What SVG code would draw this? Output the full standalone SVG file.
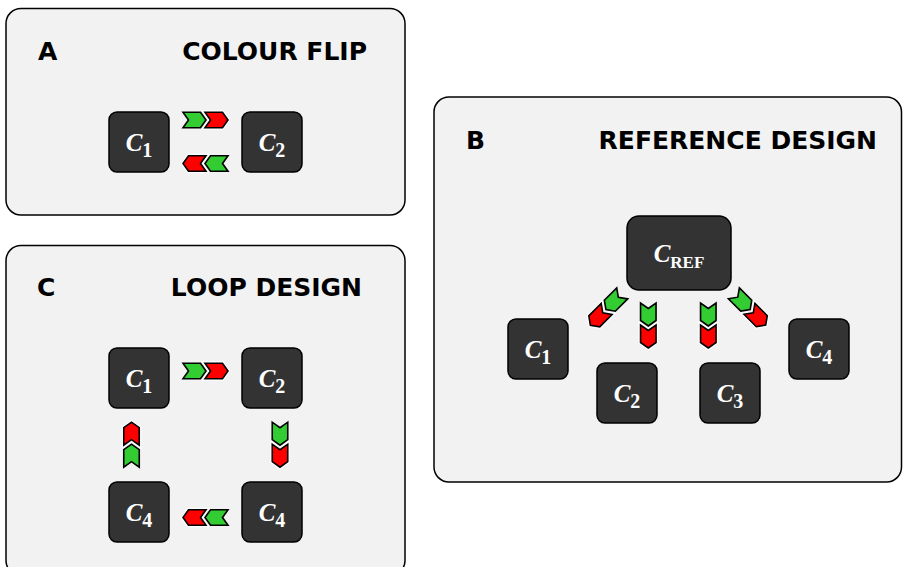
<svg xmlns="http://www.w3.org/2000/svg" width="903" height="567" viewBox="0 0 903 567">
  <style>
    .panel { fill: #f2f2f2; stroke: #000; stroke-width: 1.5; }
    .title { font-family: "DejaVu Sans", Verdana, sans-serif; font-weight: bold; font-size: 25px; fill: #000; }
    .node { fill: #333333; stroke: #000; stroke-width: 1.5; }
    .lbl { font-family: "Liberation Serif", "Times New Roman", serif; font-weight: bold; fill: #fff; }
    .lbl .c { font-style: italic; font-size: 25px; }
    .lbl .sub { font-size: 20px; }
    .lbl .subtxt { font-size: 17px; }
    .halo { fill: #fff; stroke: #fff; stroke-width: 4; stroke-linejoin: miter; }
    .green { fill: #33cc33; stroke: #000; stroke-width: 1.6; stroke-linejoin: miter; }
    .red { fill: #ff0000; stroke: #000; stroke-width: 1.6; stroke-linejoin: miter; }
  </style>
  <defs>
    <!-- single chevron, pointing along +x, centred on the origin -->
    <polygon id="chev" points="-11.5,-7.75 6,-7.75 11.5,0 6,7.75 -11.5,7.75 -6,0"/>
    <!-- a trailing green chevron followed by a leading red one -->
    <g id="pair">
      <use href="#chev" x="-11" class="green"/>
      <use href="#chev" x="11" class="halo"/>
      <use href="#chev" x="11" class="red"/>
    </g>
  </defs>

  <!-- Panel A -->
  <g id="panelA">
    <rect class="panel" x="6" y="8.5" width="399" height="206.5" rx="15"/>
    <text class="title" x="38" y="60">A</text>
    <text class="title" x="367" y="60" text-anchor="end">COLOUR FLIP</text>
  </g>
  <!-- Panel B -->
  <g id="panelB">
    <rect class="panel" x="434" y="97" width="467.5" height="385" rx="15"/>
    <text class="title" x="466" y="149.3">B</text>
    <text class="title" x="877" y="149.3" text-anchor="end">REFERENCE DESIGN</text>
  </g>
  <!-- Panel C -->
  <g id="panelC">
    <rect class="panel" x="6" y="245.5" width="399" height="330" rx="15"/>
    <text class="title" x="37" y="295.7">C</text>
    <text class="title" x="362" y="295.7" text-anchor="end">LOOP DESIGN</text>
  </g>

  <!-- Panel A nodes -->
  <g id="a-c1">
    <rect class="node" x="109" y="112" width="60" height="60" rx="8"/>
    <text class="lbl" x="139" y="151.3" text-anchor="middle"><tspan class="c">C</tspan><tspan class="sub" dy="6">1</tspan></text>
  </g>
  <g id="a-c2">
    <rect class="node" x="242" y="112" width="60" height="60" rx="8"/>
    <text class="lbl" x="272" y="151.3" text-anchor="middle"><tspan class="c">C</tspan><tspan class="sub" dy="6">2</tspan></text>
  </g>

  <!-- Panel B nodes -->
  <g id="b-cref">
    <rect class="node" x="627" y="216" width="104" height="74" rx="12"/>
    <text class="lbl" x="679" y="262.3" text-anchor="middle"><tspan class="c">C</tspan><tspan class="subtxt" dy="6">REF</tspan></text>
  </g>
  <g id="b-c1">
    <rect class="node" x="508" y="319" width="60" height="60" rx="8"/>
    <text class="lbl" x="538" y="358.3" text-anchor="middle"><tspan class="c">C</tspan><tspan class="sub" dy="6">1</tspan></text>
  </g>
  <g id="b-c2">
    <rect class="node" x="597" y="363" width="60" height="60" rx="8"/>
    <text class="lbl" x="627" y="402.3" text-anchor="middle"><tspan class="c">C</tspan><tspan class="sub" dy="6">2</tspan></text>
  </g>
  <g id="b-c3">
    <rect class="node" x="700" y="363" width="60" height="60" rx="8"/>
    <text class="lbl" x="730" y="402.3" text-anchor="middle"><tspan class="c">C</tspan><tspan class="sub" dy="6">3</tspan></text>
  </g>
  <g id="b-c4">
    <rect class="node" x="789" y="319" width="60" height="60" rx="8"/>
    <text class="lbl" x="819" y="358.3" text-anchor="middle"><tspan class="c">C</tspan><tspan class="sub" dy="6">4</tspan></text>
  </g>

  <!-- Panel C nodes -->
  <g id="c-c1">
    <rect class="node" x="109" y="348" width="60" height="60" rx="8"/>
    <text class="lbl" x="139" y="387.3" text-anchor="middle"><tspan class="c">C</tspan><tspan class="sub" dy="6">1</tspan></text>
  </g>
  <g id="c-c2">
    <rect class="node" x="242" y="348" width="60" height="60" rx="8"/>
    <text class="lbl" x="272" y="387.3" text-anchor="middle"><tspan class="c">C</tspan><tspan class="sub" dy="6">2</tspan></text>
  </g>
  <g id="c-c4-left">
    <rect class="node" x="109" y="482" width="60" height="60" rx="8"/>
    <text class="lbl" x="139" y="521.3" text-anchor="middle"><tspan class="c">C</tspan><tspan class="sub" dy="6">4</tspan></text>
  </g>
  <g id="c-c4-right">
    <rect class="node" x="242" y="482" width="60" height="60" rx="8"/>
    <text class="lbl" x="272" y="521.3" text-anchor="middle"><tspan class="c">C</tspan><tspan class="sub" dy="6">4</tspan></text>
  </g>

  <!-- Connectors: chevron pairs -->
  <g id="connectors">
    <use href="#pair" transform="translate(205.5,120)"/>
    <use href="#pair" transform="translate(205.5,163.5) rotate(180)"/>

    <use href="#pair" transform="translate(606.3,309.3) rotate(135)"/>
    <use href="#pair" transform="translate(648.3,325.5) rotate(90)"/>
    <use href="#pair" transform="translate(708.3,325.5) rotate(90)"/>
    <use href="#pair" transform="translate(749.8,309.2) rotate(45)"/>

    <use href="#pair" transform="translate(205.5,371)"/>
    <use href="#pair" transform="translate(280,444.7) rotate(90)"/>
    <use href="#pair" transform="translate(205.5,517.5) rotate(180)"/>
    <use href="#pair" transform="translate(131.5,444.7) rotate(-90)"/>
  </g>
</svg>
